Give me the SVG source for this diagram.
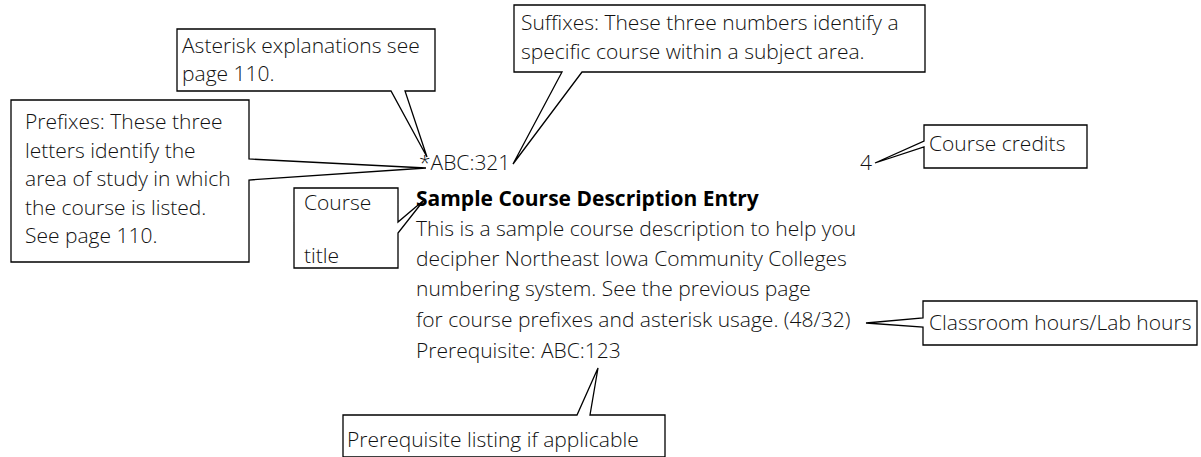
<svg xmlns="http://www.w3.org/2000/svg" width="1201" height="457" viewBox="0 0 1201 457">
<style>
text{font-family:"Open Sans","Liberation Sans",sans-serif;font-size:21px;font-weight:300;fill:#111}
.b{font-weight:700;fill:#000}
.co{fill:#fff;stroke:#000;stroke-width:1.3;stroke-linejoin:miter}
</style>
<rect width="1201" height="457" fill="#fff"/>
<g id="connectors">
<g id="suffixes">
<path class="co" d="M514,5 H925 V72 H582 L513,164 L562,72 H514 Z"/>
<text x="521" y="30">Suffixes: These three numbers identify a</text>
<text x="521" y="59">specific course within a subject area.</text>
</g>
<g id="asterisk">
<path class="co" d="M177,29 H435 V91 H405 L427,157 L391,91 H177 Z"/>
<text x="182" y="53">Asterisk explanations see</text>
<text x="182" y="81">page 110.</text>
</g>
<g id="prefixes">
<path class="co" d="M11,100 H249 V159 L426,168 L249,180 V262 H11 Z"/>
<text x="25" y="129">Prefixes: These three</text>
<text x="25" y="158">letters identify the</text>
<text x="25" y="186">area of study in which</text>
<text x="25" y="215">the course is listed.</text>
<text x="25" y="243">See page 110.</text>
</g>
<g id="credits">
<path class="co" d="M924,125 H1087 V168 H924 V147 L875,163 L924,141 Z"/>
<text x="929" y="151">Course credits</text>
</g>
<g id="title">
<path class="co" d="M294,188 H398 V222 L424,200 L398,233 V268 H294 Z"/>
<text x="304" y="210">Course</text>
<text x="304" y="263">title</text>
</g>
<g id="hours">
<path class="co" d="M923,301 H1197 V345 H923 V327 L866,323 L923,318 Z"/>
<text x="929" y="330">Classroom hours/Lab hours</text>
</g>
<g id="prereq">
<path class="co" d="M343,415 H577 L598,368 L590,415 H665 V457 H343 Z"/>
<text x="347" y="447">Prerequisite listing if applicable</text>
</g>
</g>
<g id="entry">
<text x="419" y="170">*ABC:321</text>
<text x="860" y="170">4</text>
<text class="b" x="416" y="206">Sample Course Description Entry</text>
<text x="416" y="236">This is a sample course description to help you</text>
<text x="416" y="266">decipher Northeast Iowa Community Colleges</text>
<text x="416" y="296">numbering system. See the previous page</text>
<text x="416" y="327">for course prefixes and asterisk usage. (48/32)</text>
<text x="416" y="358">Prerequisite: ABC:123</text>
</g>
</svg>
